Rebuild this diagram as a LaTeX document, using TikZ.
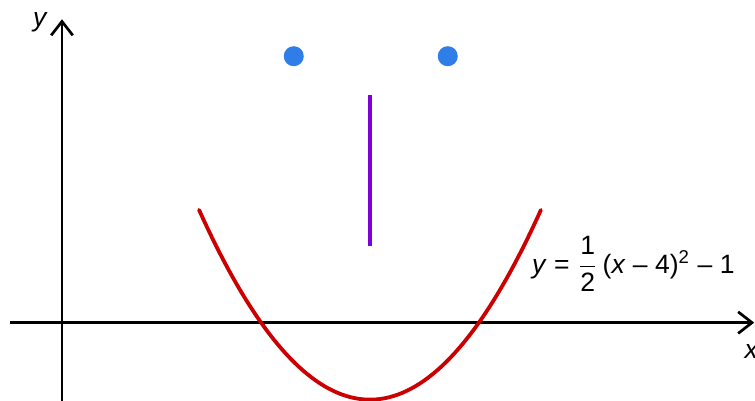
\documentclass[tikz,border=0pt]{standalone}
\usepackage{amsmath}
\usepackage{fontspec}
\setmainfont{Liberation Sans}
\usetikzlibrary{arrows.meta}
\definecolor{smilered}{RGB}{204,0,0}
\definecolor{eyeblue}{RGB}{47,125,230}
\definecolor{nosepurple}{RGB}{128,0,220}
\tikzset{
  axis/.style={line width=1pt, -{Straight Barb[length=1.8mm, width=2.8mm]}},
  smile/.style={draw=smilered, line width=1.4pt, line cap=round},
  nose/.style={draw=nosepurple, line width=1.8pt},
  eye/.style={circle, fill=eyeblue, inner sep=0pt, minimum size=2.6mm},
  lbl/.style={font=\fontsize{9.8}{11}\selectfont, inner sep=0pt},
}

\begin{document}
\begin{tikzpicture}
\useasboundingbox (-0.805,-1.017) rectangle (9.0,4.19);

% axes
\coordinate (xstart) at (-0.675,0);
\coordinate (xend) at (8.99,0);
\coordinate (ystart) at (0,-1.1);
\coordinate (yend) at (0,3.94);
\draw[axis] (xstart) -- (xend);
\draw[axis] (ystart) -- (yend);
\node[lbl, font=\fontsize{9.8}{11}\selectfont\itshape] (ylab) at (-0.29,3.9) {y};
\node[lbl, font=\fontsize{9.8}{11}\selectfont\itshape] (xlab) at (8.95,-0.37) {x};

% face
\draw[smile, domain=1.78:6.22, samples=80] plot (\x, {0.5*(\x-4)^2-1});
\draw[nose] (4,1) -- (4,2.96);
\node[eye] (lefteye) at (3.01,3.46) {};
\node[eye] (righteye) at (5.01,3.46) {};

% label of the curve
\node[lbl, anchor=west] (eq) at (6.1,0.76)
  {\textit{y} = $\dfrac{\text{1}}{\text{2}}$\,(\textit{x} – 4)\textsuperscript{2} – 1};

\end{tikzpicture}
\end{document}
